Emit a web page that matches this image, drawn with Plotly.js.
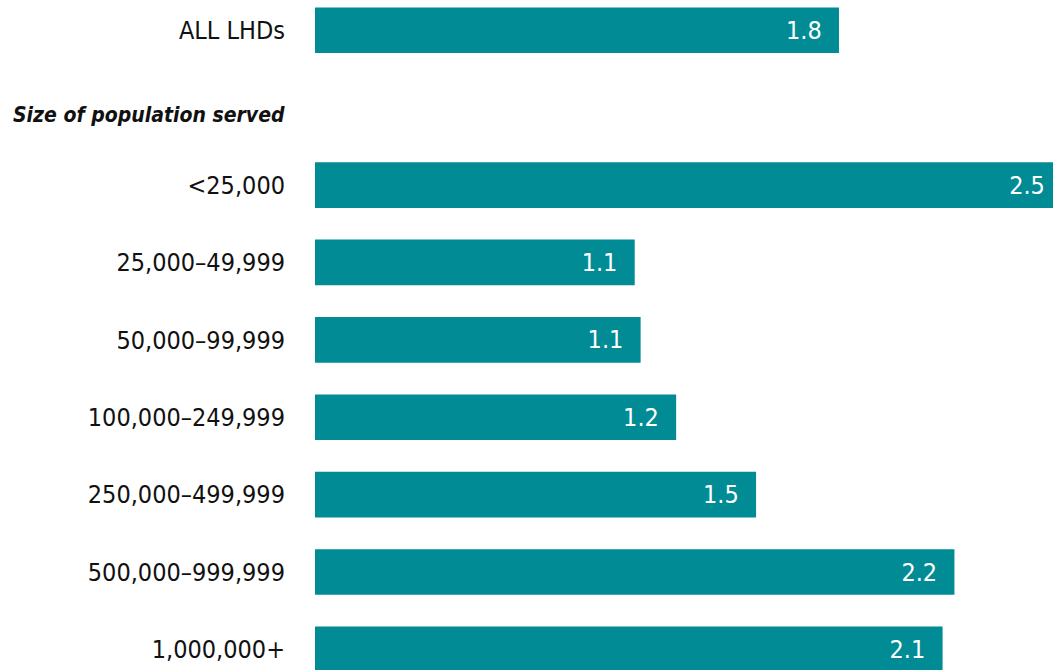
<!DOCTYPE html>
<html>
<head>
<meta charset="utf-8">
<script src="https://cdn.plot.ly/plotly-3.0.1.min.js"></script>
<style>
  html, body { margin: 0; padding: 0; background: #ffffff; }
  #chart { width: 1053px; height: 670px; }
</style>
</head>
<body>
<div id="chart"></div>
<script>
// Categories (top to bottom); the second row is a section header with no bar
const categories = [
  'ALL LHDs',
  'Size of population served',
  '<25,000',
  '25,000–49,999',
  '50,000–99,999',
  '100,000–249,999',
  '250,000–499,999',
  '500,000–999,999',
  '1,000,000+'
];
// Bar lengths (unrounded estimates)
const values = [1.77, null, 2.5, 1.08, 1.10, 1.22, 1.49, 2.16, 2.12];
// Value labels as printed on the bars
const valueLabels = ['1.8', '', '2.5', '1.1', '1.1', '1.2', '1.5', '2.2', '2.1'];
// Tick labels (the header row is drawn separately, in bold italic)
const tickLabels = [
  'ALL LHDs',
  '',
  '<25,000',
  '25,000–49,999',
  '50,000–99,999',
  '100,000–249,999',
  '250,000–499,999',
  '500,000–999,999',
  '1,000,000+'
];
const headerLabel = 'Size of population served';

const FONT = '"DejaVu Sans Condensed", "Liberation Sans Narrow", sans-serif';
const XMAX = 2.493;

const trace = {
  type: 'bar',
  orientation: 'h',
  y: categories,
  x: values,
  text: valueLabels.map((t, i) => {
    if (!t) return '';
    const pad = values[i] >= XMAX ? '\u00a0' : '\u00a0\u00a0';
    return t + pad;
  }),
  textposition: 'inside',
  insidetextanchor: 'end',
  textangle: 0,
  constraintext: 'none',
  insidetextfont: { family: FONT, size: 25, color: '#ffffff' },
  marker: { color: '#008B95', line: { width: 0 } },
  width: 0.59,
  hoverinfo: 'none',
  cliponaxis: true
};

const layout = {
  width: 1053,
  height: 670,
  margin: { l: 315, r: 0, t: 0, b: 0, pad: 0 },
  paper_bgcolor: '#ffffff',
  plot_bgcolor: '#ffffff',
  showlegend: false,
  font: { family: FONT, size: 25, color: '#111111' },
  xaxis: {
    range: [0, XMAX],
    showgrid: false,
    zeroline: false,
    showline: false,
    showticklabels: false,
    ticks: '',
    fixedrange: true
  },
  yaxis: {
    type: 'category',
    categoryorder: 'array',
    categoryarray: categories,
    tickmode: 'array',
    tickvals: categories,
    ticktext: tickLabels,
    range: [8.266, -0.391],
    showgrid: false,
    zeroline: false,
    showline: false,
    ticks: 'outside',
    ticklen: 24,
    tickcolor: 'rgba(0,0,0,0)',
    tickfont: { family: FONT, size: 25, color: '#111111' },
    fixedrange: true
  },
  annotations: [{
    xref: 'paper',
    yref: 'y',
    x: -28 / 738,
    y: categories[1],
    xanchor: 'right',
    yanchor: 'middle',
    yshift: -7,
    showarrow: false,
    text: '<b><i>' + headerLabel + '</i></b>',
    font: { family: FONT, size: 21, color: '#111111' }
  }]
};

Plotly.newPlot('chart', [trace], layout, { displayModeBar: false, staticPlot: true });
</script>
</body>
</html>
